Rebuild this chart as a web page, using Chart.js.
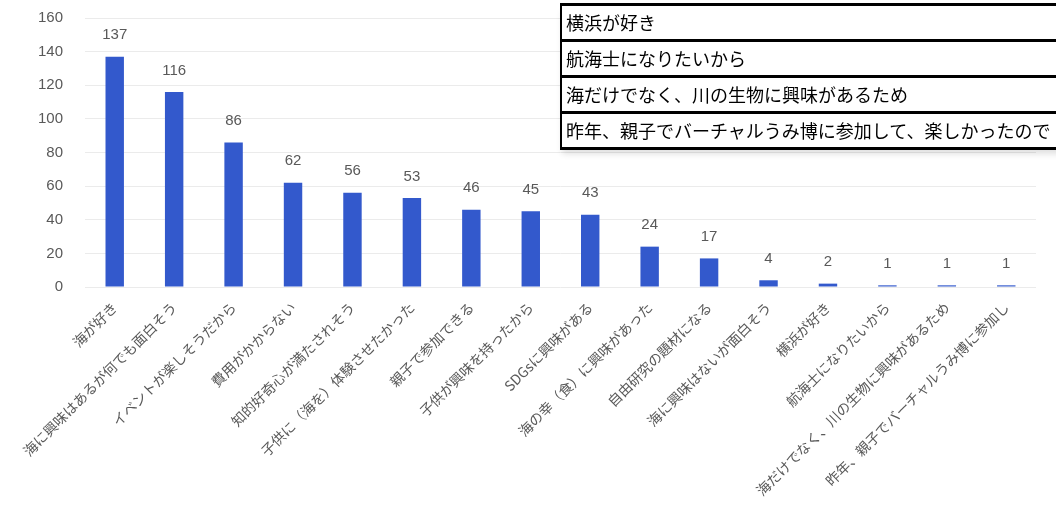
<!DOCTYPE html>
<html lang="ja">
<head>
<meta charset="utf-8">
<script src="https://cdn.jsdelivr.net/npm/chart.js@4"></script>
<style>
  html, body { margin: 0; padding: 0; background: #fff; }
  #wrap { position: relative; width: 1056px; height: 532px; overflow: hidden; }
  #chart { position: absolute; left: 0; top: 0; }
  /* 右上に重なっている表 */
  #memo {
    position: absolute; left: 560px; top: 3px; width: 520px;
    border-collapse: collapse; background: #fff;
    font-family: "Noto Sans CJK JP", sans-serif; font-size: 18px; color: #000;
    box-shadow: 0 6px 6px -2px rgba(0,0,0,0.12);
  }
  #memo td {
    height: 33px; padding: 0 0 0 4px; line-height: 33px;
    border-top: 3px solid #000; border-bottom: 3px solid #000; border-left: 2px solid #000;
    white-space: nowrap;
  }
</style>
</head>
<body>
<div id="wrap">
  <canvas id="chart" width="1056" height="532"></canvas>
  <table id="memo"></table>
</div>
<script>
/*
    DATOS
*/
const reasons = [
  '海が好き',
  '海に興味はあるが何でも面白そう',
  'イベントが楽しそうだから',
  '費用がかからない',
  '知的好奇心が満たされそう',
  '子供に（海を）体験させたかった',
  '親子で参加できる',
  '子供が興味を持ったから',
  'SDGsに興味がある',
  '海の幸（食）に興味があった',
  '自由研究の題材になる',
  '海に興味はないが面白そう',
  '横浜が好き',
  '航海士になりたいから',
  '海だけでなく、川の生物に興味があるため',
  '昨年、親子でバーチャルうみ博に参加して、楽しかったので'
];
const counts = [137, 116, 86, 62, 56, 53, 46, 45, 43, 24, 17, 4, 2, 1, 1, 1];
const yTicks = [0, 20, 40, 60, 80, 100, 120, 140, 160];
const memoRows = [
  '横浜が好き',
  '航海士になりたいから',
  '海だけでなく、川の生物に興味があるため',
  '昨年、親子でバーチャルうみ博に参加して、楽しかったので'
];

const BAR_BLUE = '#3359cc';
const GREY = '#595959';
const JP = '"Noto Sans CJK JP", sans-serif';

/*
    TABLA
*/
const memo = document.getElementById('memo');
memoRows.forEach((txt) => {
  const tr = memo.insertRow();
  tr.insertCell().textContent = txt;
});

/*
    ETIQUETAS DE VALOR (sin plugin externo)
*/
const valueLabels = {
  id: 'valueLabels',
  afterDatasetsDraw(chart) {
    const { ctx } = chart;
    const meta = chart.getDatasetMeta(0);
    ctx.save();
    ctx.fillStyle = GREY;
    ctx.font = '15px "Liberation Sans", sans-serif';
    ctx.textAlign = 'center';
    ctx.textBaseline = 'bottom';
    meta.data.forEach((bar, i) => {
      ctx.fillText(String(counts[i]), bar.x, bar.y - 14);
    });
    ctx.restore();
  }
};

const ctx = document.getElementById('chart').getContext('2d');
new Chart(ctx, {
  type: 'bar',
  plugins: [valueLabels],
  data: {
    labels: reasons,
    datasets: [
      {
        data: counts,
        backgroundColor: BAR_BLUE,
        barPercentage: 0.62,
        categoryPercentage: 0.5
      }
    ]
  },
  options: {
    responsive: false,
    animation: false,
    layout: { padding: { top: 18, right: 20, left: 0, bottom: 0 } },
    plugins: {
      legend: { display: false },
      tooltip: { enabled: false }
    },
    scales: {
      x: {
        grid: { display: false },
        border: { display: false },
        afterFit(scale) { scale.height = 245; },
        ticks: {
          autoSkip: false,
          minRotation: 45,
          maxRotation: 45,
          padding: 4,
          color: GREY,
          font: { family: JP, size: 14 },
          callback(value) {
            // the last label is cut short in the original
            const s = this.getLabelForValue(value);
            return s.length > 20 ? s.slice(0, 18) : s;
          }
        }
      },
      y: {
        min: 0,
        max: 160,
        afterFit(scale) {
          scale.width = 85;
          // tick padding would otherwise push the plot top down
          scale.paddingTop = 8;
          scale.paddingBottom = 8;
        },
        afterBuildTicks(scale) { scale.ticks = yTicks.map((v) => ({ value: v })); },
        border: { display: false },
        grid: { color: '#ebebeb', drawTicks: false },
        ticks: {
          padding: 22,
          color: GREY,
          font: { family: '"Liberation Sans", sans-serif', size: 15 }
        }
      }
    }
  }
});
</script>
</body>
</html>
